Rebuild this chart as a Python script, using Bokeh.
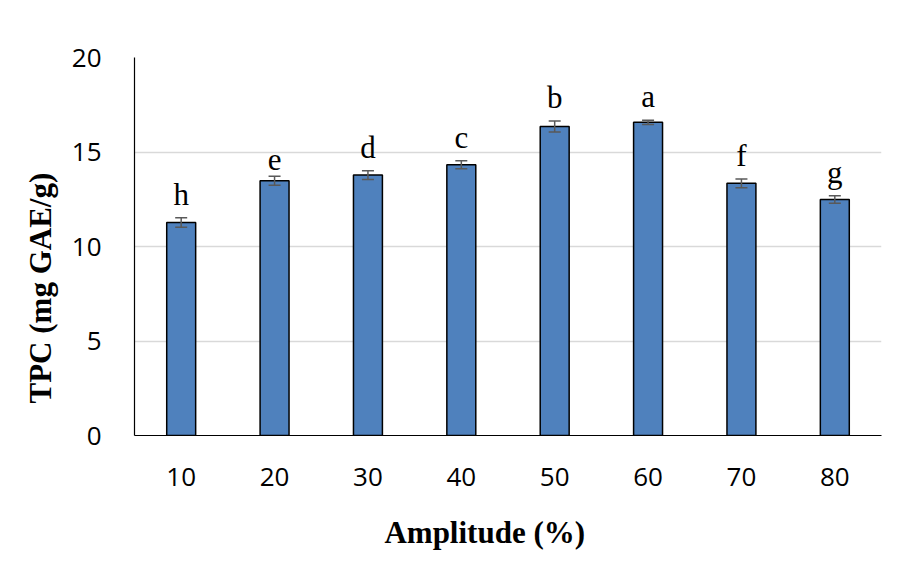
from bokeh.plotting import figure
from bokeh.models import ColumnDataSource, FactorRange, Range1d, Whisker, TeeHead, Title, FixedTicker
from bokeh.core.properties import value
from bokeh.embed import file_html
from bokeh.resources import INLINE

# ---- data ----
amplitude = ["10", "20", "30", "40", "50", "60", "70", "80"]
tpc = [11.27, 13.48, 13.78, 14.33, 16.35, 16.57, 13.34, 12.49]
tpc_err = [0.25, 0.24, 0.23, 0.21, 0.29, 0.11, 0.23, 0.20]
letters = ["h", "e", "d", "c", "b", "a", "f", "g"]
y_ticks = [0, 5, 10, 15, 20]

src = ColumnDataSource(dict(
    x=amplitude,
    top=tpc,
    upper=[v + e for v, e in zip(tpc, tpc_err)],
    lower=[v - e for v, e in zip(tpc, tpc_err)],
    letters=letters,
))

p = figure(
    x_range=FactorRange(factors=amplitude, range_padding=0),
    y_range=Range1d(0, 20),
    width=891, height=553,
    min_border_left=134, min_border_right=10,
    min_border_top=57, min_border_bottom=118,
    output_backend="svg", toolbar_location=None,
)
p.outline_line_color = None
p.background_fill_color = "white"
p.border_fill_color = "white"

# bars
p.vbar(x="x", top="top", width=0.31, bottom=0, source=src,
       fill_color="#4F81BD", line_color="black", line_width=1.5)

# error bars
wh = Whisker(base="x", upper="upper", lower="lower", source=src,
             line_color="#595959", line_width=1.5, level="overlay",
             upper_head=TeeHead(size=12, line_color="#595959", line_width=1.5),
             lower_head=TeeHead(size=12, line_color="#595959", line_width=1.5))
p.add_layout(wh)

# significance letters
p.text(x="x", y="upper", text="letters", source=src,
       text_font=value("Liberation Serif"), text_font_size="31px",
       text_color="black", text_align="center", text_baseline="bottom",
       y_offset=-6)

# axes
p.xgrid.grid_line_color = None
p.ygrid.grid_line_color = "#D9D9D9"
p.ygrid.grid_line_width = 1.5
p.yaxis.ticker = FixedTicker(ticks=y_ticks)

for ax in (p.xaxis[0], p.yaxis[0]):
    ax.major_tick_line_color = None
    ax.minor_tick_line_color = None
    ax.axis_line_color = "black"
    ax.axis_line_width = 1.2
    ax.major_label_text_font = "Open Sans"
    ax.major_label_text_font_size = "26px"
    ax.major_label_text_color = "black"

p.yaxis.major_label_standoff = 27
p.xaxis.major_label_standoff = 26

# x axis title (trailing no-break spaces shift its centre left, as in the reference)
p.xaxis.axis_label = "Amplitude (%)" + "\u00a0" * 6
p.xaxis.axis_label_text_font = "Liberation Serif"
p.xaxis.axis_label_text_font_style = "bold"
p.xaxis.axis_label_text_font_size = "31px"
p.xaxis.axis_label_text_color = "black"
p.xaxis.axis_label_standoff = 26

# y axis title
p.add_layout(Title(text="TPC (mg GAE/g)", align="left", offset=32,
                   text_font="Liberation Serif", text_font_style="bold",
                   text_font_size="31px", text_color="black", standoff=21), "left")

open("out.html", "w").write(file_html(p, INLINE))
